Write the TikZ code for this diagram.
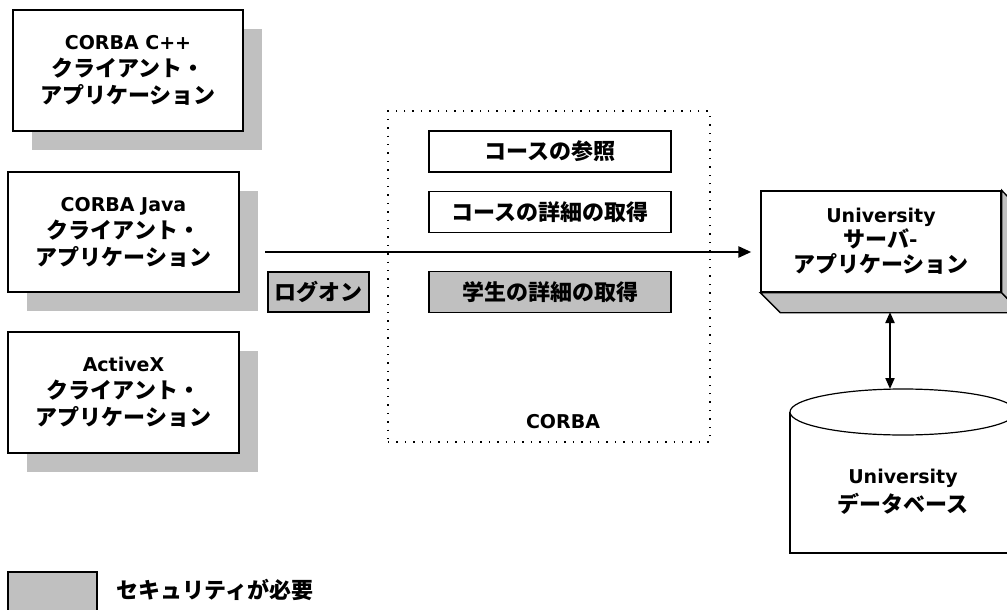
\documentclass[tikz,border=0pt]{standalone}
\usepackage{fontspec}
\setmainfont{DejaVu Sans}
\newfontfamily\jpfont{Noto Sans CJK JP}
\usetikzlibrary{shadows,arrows.meta}
\definecolor{shgray}{HTML}{C0C0C0}
\newcommand\JP[1]{{\jpfont\bfseries\fontsize{22}{27}\selectfont #1}}
\newcommand\LT[1]{{\bfseries\fontsize{19}{27}\selectfont #1}}
\tikzset{
  client/.style={draw, fill=white, line width=1.3pt, minimum width=230pt, minimum height=121pt, align=center,
    font=\fontsize{22}{27}\selectfont,
    drop shadow={shadow xshift=19pt, shadow yshift=-19pt, fill=shgray, opacity=1}},
  opbox/.style={draw, line width=1.3pt, minimum width=242pt, minimum height=41pt, inner sep=0pt},
  secure/.style={fill=shgray},
  face/.style={fill=shgray, draw, line width=1.3pt, line join=miter},
  mainarrow/.style={line width=2.6pt, -{Triangle[length=13pt,width=11pt]}},
  dblarrow/.style={line width=2pt, {Triangle[length=11pt,width=9pt]}-{Triangle[length=11pt,width=9pt]}},
  corbabox/.style={draw, line width=1.4pt, dash pattern=on 1.4pt off 7pt, minimum width=322pt, minimum height=331pt}
}
\begin{document}
\begin{tikzpicture}[x=1pt,y=-1pt]
\useasboundingbox (0,0) rectangle (1007,610);
% client applications
\node[client] (c1) at (128,70.5) {\LT{CORBA C++}\\\JP{クライアント・}\\\JP{アプリケーション}};
\node[client, minimum width=231pt, minimum height=120pt] (c2) at (123.5,232) {\LT{CORBA Java}\\\JP{クライアント・}\\\JP{アプリケーション}};
\node[client, minimum width=231pt, minimum height=121pt] (c3) at (123.5,392.5) {\LT{ActiveX}\\\JP{クライアント・}\\\JP{アプリケーション}};
% CORBA dotted region
\node[corbabox] (cb) at (549,276.5) {};
\node (cblabel) at (563,422) {\LT{CORBA}};
\node[opbox] (op1) at (550,151.5) {\JP{コースの参照}};
\node[opbox] (op2) at (550,212) {\JP{コースの詳細の取得}};
\node[opbox, secure] (op3) at (550,292) {\JP{学生の詳細の取得}};
\node[opbox, secure, minimum width=101pt, minimum height=40pt] (logon) at (318.5,292) {\JP{ログオン}};
% server
\node[draw, fill=white, line width=1.4pt, minimum width=240pt, minimum height=101pt, align=center,
  font=\fontsize{22}{25}\selectfont] (srv) at (881,241.5) {\LT{University}\\\JP{サーバ-}\\\JP{アプリケーション}};
\filldraw[face] (srv.south west) -- ++(20,20) -- ++(240,0) -- (srv.south east) -- cycle;
\filldraw[face] (srv.south east) -- ++(20,20) -- ++(0,-101) -- (srv.north east) -- cycle;
% main arrow
\coordinate (a0) at (265,252);
\draw[mainarrow, shorten >=9pt] (a0) -- (a0 -| srv.west);
% database cylinder
\coordinate (cyl) at (903,412);
\draw[line width=2pt] ([xshift=-113pt]cyl) -- ++(0,141) -- ++(226,0) -- ++(0,-141);
\draw[line width=1.2pt, fill=white] (cyl) ellipse [x radius=113pt, y radius=23pt];
\node[align=center, font=\fontsize{22}{29}\selectfont] (db) at (903,492) {\LT{University}\\\JP{データベース}};
% server <-> db
\coordinate (sb) at (890,312);
\coordinate (dt) at (890,389);
\draw[dblarrow] (sb) -- (dt);
% legend
\node[draw, secure, line width=1.3pt, minimum width=89pt, minimum height=50pt] (leg) at (52.5,597) {};
\node[anchor=west] (legtext) at (113,590) {\JP{セキュリティが必要}};
\end{tikzpicture}
\end{document}
